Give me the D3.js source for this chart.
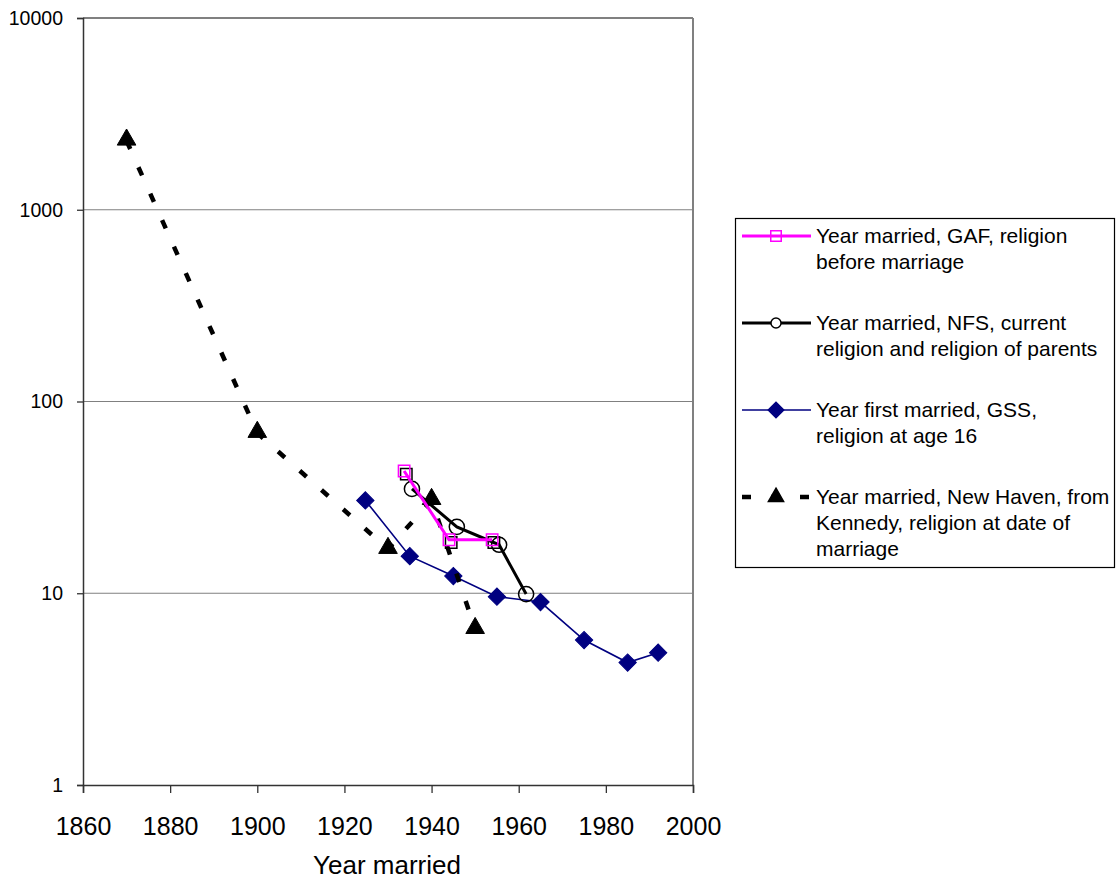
<!DOCTYPE html>
<html>
<head>
<meta charset="utf-8">
<script src="https://cdn.jsdelivr.net/npm/d3@7"></script>
<style>
  html, body { margin: 0; padding: 0; background: #fff; }
  svg { display: block; font-family: "Liberation Sans", Arial, sans-serif; }
</style>
</head>
<body>
<svg id="chart" width="1116" height="881"></svg>
<script>
// ---------------- data ----------------
const xTicks = [1860, 1880, 1900, 1920, 1940, 1960, 1980, 2000];
const yTicks = [1, 10, 100, 1000, 10000];
const yTickLabels = ["1", "10", "100", "1000", "10000"];

const gafYears = [1933.7, 1944.0, 1953.9];
const gafValues = [43.4, 19.0, 19.0];

const gafShadowYears = [1934.2, 1944.5, 1954.3];
const gafShadowValues = [41.8, 18.4, 18.4];

const nfsYears = [1935.5, 1945.8, 1955.5, 1961.7];
const nfsValues = [35.0, 22.2, 17.9, 9.9];

const gssYears = [1924.8, 1935, 1945, 1955, 1965, 1975, 1985, 1992];
const gssValues = [30.5, 15.6, 12.3, 9.6, 9.0, 5.7, 4.35, 4.9];

const nhYears = [1870, 1900, 1930, 1940, 1950];
const nhValues = [2290, 68.5, 17.0, 30.6, 6.5];

const legendLabels = [
  ["Year married, GAF, religion", "before marriage"],
  ["Year married, NFS, current", "religion and religion of parents"],
  ["Year first married, GSS,", "religion at age 16"],
  ["Year married, New Haven, from", "Kennedy, religion at date of", "marriage"]
];
const xTitle = "Year married";

// ---------------- layout ----------------
const svg = d3.select("#chart");
const L = 83, R = 693, T = 18, B = 785;
const x = d3.scaleLinear().domain([1860, 2000]).range([L, R]);
const y = d3.scaleLog().domain([1, 10000]).range([B, T]);

// gridlines
svg.append("g").selectAll("line").data(yTicks.filter(d => d > 1)).join("line")
  .attr("x1", L).attr("x2", R)
  .attr("y1", d => y(d)).attr("y2", d => y(d))
  .attr("stroke", "#808080").attr("stroke-width", d => d === 10000 ? 2 : 1.2);
// right border
svg.append("line").attr("x1", R).attr("x2", R).attr("y1", T).attr("y2", B)
  .attr("stroke", "#808080").attr("stroke-width", 2);

// axes
const yAxis = d3.axisLeft(y).tickValues(yTicks).tickFormat((d, i) => yTickLabels[i]).tickSizeOuter(0).tickSize(6).tickPadding(14);
const gy = svg.append("g").attr("transform", `translate(${L},0)`).call(yAxis);
gy.select(".domain").attr("stroke", "#333").attr("stroke-width", 1.5);
gy.selectAll(".tick line").attr("stroke", "#333").attr("stroke-width", 1.3);
gy.selectAll("text").attr("font-size", 19.5).attr("fill", "#000").attr("font-family", "Liberation Sans, Arial, sans-serif");

const xAxis = d3.axisBottom(x).tickValues(xTicks).tickFormat(d3.format("d")).tickSizeOuter(0).tickSize(8).tickPadding(24);
const gx = svg.append("g").attr("transform", `translate(0,${B})`).call(xAxis);
gx.select(".domain").attr("stroke", "#333").attr("stroke-width", 1.5);
gx.selectAll(".tick line").attr("stroke", "#333").attr("stroke-width", 1.3);
gx.selectAll("text").attr("font-size", 25).attr("fill", "#000").attr("font-family", "Liberation Sans, Arial, sans-serif");

svg.append("text").attr("x", 387).attr("y", 874).attr("text-anchor", "middle")
  .attr("font-size", 26).attr("fill", "#000").text(xTitle);

// ---------------- series ----------------
const line = d3.line().x(d => x(d[0])).y(d => y(d[1]));
const zip = (a, b) => a.map((v, i) => [v, b[i]]);

const sym = {
  square: d3.symbol().type(d3.symbolSquare).size(130),
  circle: d3.symbol().type(d3.symbolCircle).size(180),
  diamond: d3.symbol().type(d3.symbolSquare).size(150),
  triangle: d3.symbol().type(d3.symbolTriangle).size(150)
};

function drawMarkers(g, pts, kind, fill, stroke, sw) {
  g.selectAll("path.m").data(pts).join("path").attr("class", "m")
    .attr("d", sym[kind]())
    .attr("transform", d => `translate(${x(d[0])},${y(d[1])})` + (kind === "diamond" ? " rotate(45)" : "") + (kind === "triangle" ? " translate(0,-1)" : ""))
    .attr("fill", fill).attr("stroke", stroke).attr("stroke-width", sw);
}

// GSS
const gssPts = zip(gssYears, gssValues);
const gGss = svg.append("g");
gGss.append("path").attr("d", line(gssPts)).attr("fill", "none").attr("stroke", "#000080").attr("stroke-width", 1.6);
drawMarkers(gGss, gssPts, "diamond", "#000080", "#000080", 1);

// unlabeled black squares
const gSh = svg.append("g");
drawMarkers(gSh, zip(gafShadowYears, gafShadowValues), "square", "none", "#000", 1.5);

// NFS
const nfsPts = zip(nfsYears, nfsValues);
const gNfs = svg.append("g");
gNfs.append("path").attr("d", line(nfsPts)).attr("fill", "none").attr("stroke", "#000").attr("stroke-width", 3);
drawMarkers(gNfs, nfsPts, "circle", "none", "#000", 1.5);

// New Haven
const nhPts = zip(nhYears, nhValues);
const gNh = svg.append("g");
gNh.append("path").attr("d", line(nhPts)).attr("fill", "none").attr("stroke", "#000").attr("stroke-width", 4.5)
  .attr("stroke-dasharray", "9,20");
drawMarkers(gNh, nhPts, "triangle", "#000", "#000", 1);

// GAF
const gafPts = zip(gafYears, gafValues);
const gGaf = svg.append("g");
gGaf.append("path").attr("d", line(gafPts)).attr("fill", "none").attr("stroke", "#FF00FF").attr("stroke-width", 3);
drawMarkers(gGaf, gafPts, "square", "none", "#FF00FF", 1.5);

// ---------------- legend ----------------
const lg = svg.append("g");
lg.append("rect").attr("x", 735.5).attr("y", 218.5).attr("width", 379).attr("height", 349)
  .attr("fill", "#fff").attr("stroke", "#000").attr("stroke-width", 1.2);
const legendStyles = [
  { color: "#FF00FF", w: 3, dash: null, kind: "square", fill: "none" },
  { color: "#000", w: 3, dash: null, kind: "circle", fill: "#fff" },
  { color: "#000080", w: 1.6, dash: null, kind: "diamond", fill: "#000080" },
  { color: "#000", w: 4.5, dash: "9,20", kind: "triangle", fill: "#000" }
];
const rowStarts = [236, 323, 410, 497];
legendLabels.forEach((lines, i) => {
  const st = legendStyles[i];
  const cy = rowStarts[i];
  lg.append("line").attr("x1", 742).attr("x2", 811).attr("y1", cy).attr("y2", cy)
    .attr("stroke", st.color).attr("stroke-width", st.w).attr("stroke-dasharray", st.dash);
  const s = st.kind === "circle" ? d3.symbol().type(d3.symbolCircle).size(80)
    : st.kind === "square" ? d3.symbol().type(d3.symbolSquare).size(110)
    : st.kind === "diamond" ? d3.symbol().type(d3.symbolSquare).size(120)
    : d3.symbol().type(d3.symbolTriangle).size(100);
  lg.append("path").attr("d", s())
    .attr("transform", `translate(776,${cy})` + (st.kind === "diamond" ? " rotate(45)" : ""))
    .attr("fill", st.fill).attr("stroke", st.color).attr("stroke-width", 1.5);
  lines.forEach((t, j) => {
    lg.append("text").attr("x", 816).attr("y", cy + j * 26).attr("dy", "0.35em")
      .attr("font-size", 21).attr("fill", "#000").text(t);
  });
});
</script>
</body>
</html>
